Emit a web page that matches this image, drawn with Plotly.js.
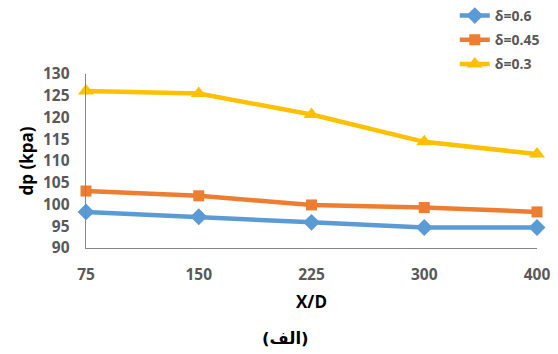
<!DOCTYPE html>
<html>
<head>
<meta charset="utf-8">
<script src="https://cdn.plot.ly/plotly-3.0.1.min.js"></script>
<style>
  html, body { margin: 0; padding: 0; background: #fff; }
  #chart { width: 558px; height: 354px; }
</style>
</head>
<body>
<div id="chart"></div>
<script>
// X/D stations along the channel
const stations = ['75', '150', '225', '300', '400'];

// pressure drop dp (kPa) for each blockage ratio δ
const dp_d060 = [98.3, 97.2, 95.9, 94.7, 94.7];
const dp_d045 = [103.1, 102.0, 99.9, 99.3, 98.3];
const dp_d030 = [126.1, 125.5, 120.7, 114.4, 111.6];

const seriesNames = ['δ=0.6', 'δ=0.45', 'δ=0.3'];
const yTicks = [90, 95, 100, 105, 110, 115, 120, 125, 130];

const gray = '#595959';
const tickFont = { family: 'Open Sans, sans-serif', size: 15.5, color: gray, weight: 'bold' };

function series(name, y, color, symbol, size) {
  return {
    type: 'scatter', mode: 'lines+markers', name: name, legendgroup: name,
    x: stations, y: y, cliponaxis: false,
    line: { color: color, width: 4.5 },
    marker: { color: color, symbol: symbol, size: size }
  };
}

const traces = [
  series(seriesNames[0], dp_d060, '#5B9BD5', 'diamond', 13),
  series(seriesNames[1], dp_d045, '#ED7D31', 'square', 11),
  series(seriesNames[2], dp_d030, '#FFC000', 'triangle-up', 14)
];

const layout = {
  width: 558, height: 354,
  margin: { l: 86, r: 21, t: 74, b: 106, autoexpand: false },
  paper_bgcolor: '#fff', plot_bgcolor: '#fff',
  showlegend: true,
  legend: {
    xref: 'container', yref: 'container', x: 0.815, y: 1.025,
    xanchor: 'left', yanchor: 'top',
    font: { family: 'Open Sans, sans-serif', size: 14, color: gray, weight: 'bold' },
    itemwidth: 30, traceorder: 'grouped', tracegroupgap: 3, bgcolor: 'rgba(0,0,0,0)'
  },
  xaxis: {
    type: 'category', range: [0, 4], showgrid: false, zeroline: false,
    showline: true, linecolor: '#868686', linewidth: 1.3, automargin: false,
    ticks: '', ticklabelstandoff: 12, tickfont: tickFont,
    title: { text: 'X/D', standoff: 12,
      font: { family: 'Open Sans, sans-serif', size: 17, color: '#000', weight: 'bold' } }
  },
  yaxis: {
    range: [90, 130], tickvals: yTicks, showgrid: false, zeroline: false,
    showline: true, linecolor: '#868686', linewidth: 1.3, automargin: false,
    ticks: '', ticklabelstandoff: 12, tickfont: tickFont,
    title: { text: 'dp (kpa)', standoff: 5,
      font: { family: 'Open Sans, sans-serif', size: 17, color: '#000', weight: 'bold' } }
  },
  annotations: [{
    text: '(الف)', showarrow: false,
    xref: 'paper', yref: 'paper', x: 0.443, y: -0.52,
    xanchor: 'center', yanchor: 'middle',
    font: { family: 'DejaVu Sans, sans-serif', size: 16.5, color: '#000', weight: 'bold' }
  }]
};

Plotly.newPlot('chart', traces, layout, { displayModeBar: false, staticPlot: true });
</script>
</body>
</html>
